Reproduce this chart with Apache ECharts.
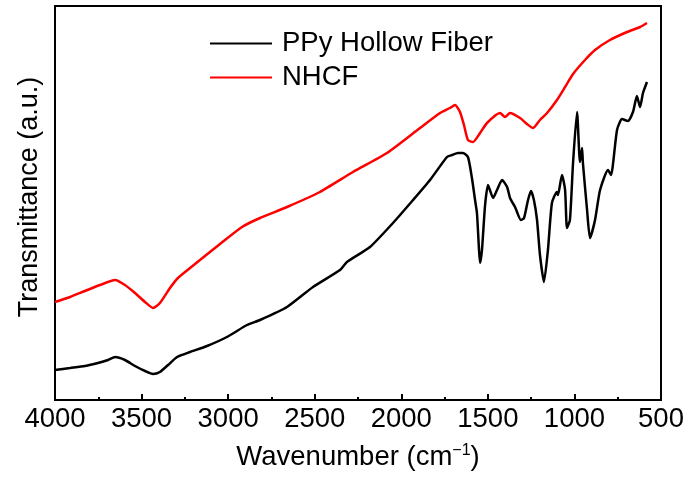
<!DOCTYPE html>
<html>
<head>
<meta charset="utf-8">
<script src="https://cdn.jsdelivr.net/npm/echarts@6/dist/echarts.min.js"></script>
<style>html,body{margin:0;padding:0;background:#fff}#c{width:691px;height:478px}</style>
</head>
<body>
<div id="c"></div>
<script>
// Wavenumber (cm-1) and transmittance (a.u.)
const ppyWave = [4000,3913,3827,3752,3694,3653,3596,3538,3480,3434,3394,3347,3295,3220,3122,3007,2891,2816,2660,2510,2354,2314,2181,2048,1932,1834,1736,1707,1672,1644,1615,1592,1574,1563,1551,1545,1534,1516,1499,1470,1447,1418,1389,1372,1343,1309,1291,1268,1251,1234,1216,1199,1176,1153,1130,1101,1095,1072,1054,1043,1026,1008,985,968,956,951,927,910,881,852,806,789,754,725,691,662,639,621,604,581];
const ppyT = [30,32,34,37,40,43,40,34,29,26,28,35,43,48,54,63,75,80,93,113,130,138,153,177,200,220,243,245,247,247,243,222,200,187,150,137,150,195,215,202,210,220,213,202,193,180,182,200,209,200,180,145,118,150,197,208,205,225,210,172,180,237,288,238,252,237,190,162,180,210,230,225,270,281,279,288,304,293,307,318];
const nhcfWave = [4000,3913,3827,3740,3653,3596,3538,3480,3434,3394,3336,3290,3220,3134,3047,2920,2816,2660,2470,2279,2083,1892,1776,1719,1690,1661,1638,1615,1586,1545,1505,1430,1401,1372,1314,1274,1239,1199,1158,1101,1054,1008,939,881,795,696,621,581];
const nhcfT = [98,103,109,115,120,115,107,98,92,97,112,122,132,144,156,173,182,193,208,228,247,272,287,292,295,288,275,260,258,267,277,287,283,287,282,276,272,280,287,300,313,326,340,350,360,368,373,377];
const xTicks = [4000,3500,3000,2500,2000,1500,1000,500];
const seriesNames = ['PPy Hollow Fiber','NHCF'];

const chart = echarts.init(document.getElementById('c'), null, {renderer:'canvas'});
const FONT = 'Liberation Sans, Arial, sans-serif';
const FS = 27.5;
chart.setOption({
  animation:false,
  backgroundColor:'#fff',
  grid:{left:55,right:30,top:6,bottom:78,show:true,borderColor:'#000',borderWidth:2,backgroundColor:'transparent'},
  legend:{
    orient:'vertical',left:210,top:29.5,padding:0,itemWidth:62,itemHeight:2,itemGap:6,icon:'rect',
    textStyle:{fontFamily:FONT,fontSize:FS,color:'#000',lineHeight:27,padding:[0,0,0,5]},
    data:seriesNames
  },
  xAxis:{
    type:'value',inverse:true,min:500,max:4000,interval:500,
    name:'{a|Wavenumber (cm}{sup|\u22121}{a|)}',nameLocation:'middle',nameGap:42,
    nameTextStyle:{fontFamily:FONT,fontSize:FS,color:'#000',
      rich:{a:{fontFamily:FONT,fontSize:FS,color:'#000',lineHeight:30},
            sup:{fontFamily:FONT,fontSize:16,color:'#000',lineHeight:16,verticalAlign:'top',padding:[1,0,0,0]}}},
    axisLine:{show:true,lineStyle:{color:'#000',width:2}},
    axisTick:{show:true,inside:true,length:6,lineStyle:{color:'#000',width:2}},
    minorTick:{show:true,splitNumber:2,length:3,lineStyle:{color:'#000',width:2}},
    splitLine:{show:false},minorSplitLine:{show:false},
    axisLabel:{fontFamily:FONT,fontSize:FS,color:'#000',margin:5,
      customValues:xTicks,formatter:(v)=>String(v)}
  },
  yAxis:{
    type:'value',min:0,max:394,
    name:'Transmittance (a.u.)',nameLocation:'middle',nameGap:12,
    nameTextStyle:{fontFamily:FONT,fontSize:27,color:'#000',padding:[0,0,0,12]},
    axisLine:{show:true,lineStyle:{color:'#000',width:2}},
    axisTick:{show:false},axisLabel:{show:false},splitLine:{show:false}
  },
  series:[
    {name:seriesNames[0],type:'line',symbol:'none',smooth:0.2,data:ppyWave.map((w,i)=>[w,ppyT[i]]),
     lineStyle:{color:'#000',width:2.5},itemStyle:{color:'#000'}},
    {name:seriesNames[1],type:'line',symbol:'none',smooth:0.2,data:nhcfWave.map((w,i)=>[w,nhcfT[i]]),
     lineStyle:{color:'#ff0000',width:2.5},itemStyle:{color:'#ff0000'}}
  ]
});
</script>
</body>
</html>
